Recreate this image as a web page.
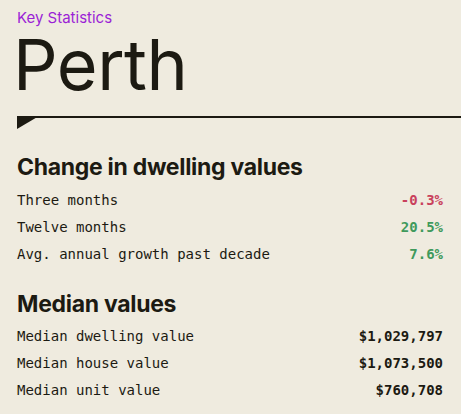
<!DOCTYPE html>
<html><head><meta charset="utf-8">
<script src="https://cdn.jsdelivr.net/npm/chart.js@4"></script>
<style>
html,body{margin:0;padding:0;background:#efebdf;width:461px;height:414px;overflow:hidden}
#wrap{position:relative;width:461px;height:414px;font-family:Inter,"Noto Sans",sans-serif;color:#1c1a12}
.abs{position:absolute;white-space:nowrap}
.row{position:absolute;left:17px;width:426px;font-family:"DejaVu Sans Mono","Liberation Mono",monospace;font-size:14px;display:flex;justify-content:space-between}
.h2{position:absolute;left:17px;font-weight:700;font-size:23px;letter-spacing:-0.3px}
</style></head>
<body><div id="wrap">
<div class="abs" style="left:17px;top:9px;font-size:15px;line-height:18px;color:#9b1fd6">Key Statistics</div>
<div class="abs" style="left:13px;top:30px;font-size:70px;line-height:70px;letter-spacing:-0.5px;font-weight:400">Perth</div>
<div class="abs" style="left:17px;top:116px;width:444px;height:1.5px;background:#1c1a12"></div>
<svg class="abs" style="left:17px;top:116px" width="22" height="13"><polygon points="0,0 22,0 0,13" fill="#1c1a12"/></svg>
<div class="h2" style="top:153px">Change in dwelling values</div>
<div class="h2" style="top:290px">Median values</div>
<div id="rows"></div>
</div>
<script>
const changeLabels=["Three months","Twelve months","Avg. annual growth past decade"];
const changeValues=[-0.3,20.5,7.6];
const medianLabels=["Median dwelling value","Median house value","Median unit value"];
const medianValues=[1029797,1073500,760708];
const rows=document.getElementById('rows');
function addRow(top,label,val,color,bold){
  const d=document.createElement('div');d.className='row';d.style.top=top+'px';
  const a=document.createElement('span');a.textContent=label;
  const b=document.createElement('span');b.textContent=val;b.style.color=color;
  if(bold)b.style.fontWeight='700';
  d.appendChild(a);d.appendChild(b);rows.appendChild(d);
}
changeLabels.forEach((l,i)=>addRow(192+i*27,l,changeValues[i].toFixed(1)+'%',changeValues[i]<0?'#c9415c':'#3f9a5c',true));
medianLabels.forEach((l,i)=>addRow(328+i*27,l,'$'+medianValues[i].toLocaleString('en-US'),'#1c1a12',true));
</script>
</body></html>
